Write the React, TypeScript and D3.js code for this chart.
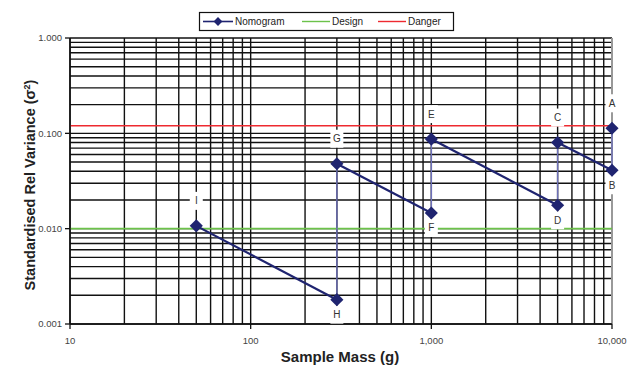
import React from 'react';
import * as d3 from 'd3';

// nomogram points, in drawing order (A -> I)
const pointLabels = ['A', 'B', 'C', 'D', 'E', 'F', 'G', 'H', 'I'];
const massValues = [10000, 10000, 5000, 5000, 1000, 1000, 300, 300, 50];
const varianceValues = [0.113, 0.041, 0.08, 0.0176, 0.087, 0.0146, 0.048, 0.0018, 0.0107];
const labelAbove = [true, false, true, false, true, false, true, false, true];

const designLevel = 0.01;
const dangerLevel = 0.12;

const xTicks = [10, 100, 1000, 10000];
const xTickLabels = ['10', '100', '1,000', '10,000'];
const yTicks = [0.001, 0.01, 0.1, 1];
const yTickLabels = ['0.001', '0.010', '0.100', '1.000'];

const width = 632;
const height = 366;
const margin = { top: 38, right: 20, bottom: 42, left: 70 };

const App = () => {
    const x = d3.scaleLog().domain([10, 10000]).range([margin.left, width - margin.right]);
    const y = d3.scaleLog().domain([0.001, 1]).range([height - margin.bottom, margin.top]);

    const [x0, x1] = x.range();
    const [y0, y1] = y.range();

    // minor grid: 1..9 in every decade
    const xGrid: number[] = [];
    for (let p = 1; p <= 3; p++) for (let m = 1; m <= 9; m++) xGrid.push(m * Math.pow(10, p));
    xGrid.push(10000);
    const yGrid: number[] = [];
    for (let p = -3; p <= -1; p++) for (let m = 1; m <= 9; m++) yGrid.push(m * Math.pow(10, p));
    yGrid.push(1);

    const pts = massValues.map((m, i) => ({ m, v: varianceValues[i], label: pointLabels[i], above: labelAbove[i] }));
    const segs = pts.slice(1).map((p, i) => ({ a: pts[i], b: p }));
    const diamond = d3.symbol(d3.symbolDiamond2, 110)();

    const font = 'Liberation Sans, Arial, sans-serif';

    return (
        <svg width={width} height={height} style={{ position: 'absolute', left: 0, top: 0, background: '#fff' }} fontFamily={font}>
            {/* grid */}
            {yGrid.map((v, i) => (
                <line key={'h' + i} x1={x0} x2={x1} y1={y(v)} y2={y(v)} stroke="#111" strokeWidth={1.4} />
            ))}
            {xGrid.map((v, i) => (
                <line key={'v' + i} x1={x(v)} x2={x(v)} y1={y0} y2={y1}
                    stroke={v === 10000 ? '#999' : '#111'} strokeWidth={v === 10000 ? 2 : 1.4} />
            ))}

            {/* design / danger */}
            <line x1={x0} x2={x1} y1={y(designLevel)} y2={y(designLevel)} stroke="#6cc24a" strokeWidth={1.6} />
            <line x1={x0} x2={x1} y1={y(dangerLevel)} y2={y(dangerLevel)} stroke="#ee2a30" strokeWidth={1.6} />

            {/* axes */}
            <line x1={x0} x2={x0} y1={y0} y2={y1} stroke="#111" strokeWidth={1.5} />
            <line x1={x0} x2={x1} y1={y0} y2={y0} stroke="#111" strokeWidth={1.5} />
            {yTicks.map((v, i) => (
                <g key={'yt' + i}>
                    <line x1={x0 - 5} x2={x0} y1={y(v)} y2={y(v)} stroke="#111" strokeWidth={1.3} />
                    <text x={x0 - 8} y={y(v)} dy="0.35em" textAnchor="end" fontSize={9.5} fill="#444">{yTickLabels[i]}</text>
                </g>
            ))}
            {xTicks.map((v, i) => (
                <g key={'xt' + i}>
                    <line x1={x(v)} x2={x(v)} y1={y0} y2={y0 + 5} stroke="#111" strokeWidth={1.3} />
                    <text x={x(v)} y={y0 + 20} textAnchor="middle" fontSize={9.5} fill="#444">{xTickLabels[i]}</text>
                </g>
            ))}

            {/* point label boxes (white, hide grid) */}
            {pts.map((p, i) => {
                const cy = p.above ? y(p.v) - 25 : y(p.v) + 15;
                return (
                    <g key={'lb' + i}>
                        <rect x={x(p.m) - 6.5} y={cy - 9} width={13} height={18} fill="#fff" />
                        <text x={x(p.m)} y={cy} dy="0.35em" textAnchor="middle" fontSize={10} fill="#333">{p.label}</text>
                    </g>
                );
            })}

            {/* nomogram */}
            {segs.map((s, i) => {
                const vertical = s.a.m === s.b.m;
                return (
                    <line key={'s' + i} x1={x(s.a.m)} x2={x(s.b.m)} y1={y(s.a.v)} y2={y(s.b.v)}
                        stroke={vertical ? '#6d70b8' : '#1f2470'} strokeWidth={vertical ? 1.4 : 2.2} />
                );
            })}
            {pts.map((p, i) => (
                <path key={'p' + i} d={diamond ?? ''} transform={`translate(${x(p.m)},${y(p.v)})`} fill="#1f2470" />
            ))}

            {/* legend */}
            <rect x={199.5} y={12.5} width={254} height={18} fill="#fff" stroke="#111" strokeWidth={1.2} />
            <line x1={203} x2={233} y1={21.5} y2={21.5} stroke="#1f2470" strokeWidth={1.6} />
            <path d={d3.symbol(d3.symbolDiamond2, 50)() ?? ''} transform="translate(218,21.5)" fill="#1f2470" />
            <text x={235} y={25} fontSize={10} fill="#222">Nomogram</text>
            <line x1={302} x2={330} y1={21.5} y2={21.5} stroke="#6cc24a" strokeWidth={1.4} />
            <text x={332} y={25} fontSize={10} fill="#222">Design</text>
            <line x1={378} x2={406} y1={21.5} y2={21.5} stroke="#ee2a30" strokeWidth={1.4} />
            <text x={408} y={25} fontSize={10} fill="#222">Danger</text>

            {/* titles */}
            <text x={340} y={362} textAnchor="middle" fontSize={15} fontWeight="bold" fill="#222">Sample Mass (g)</text>
            <text transform="translate(35,185) rotate(-90)" textAnchor="middle" fontSize={14.5} fontWeight="bold" fill="#222">
                Standardised Rel Variance (σ<tspan dy="-5" fontSize={9}>2</tspan><tspan dy="5">)</tspan>
            </text>
        </svg>
    );
};

export default App;
